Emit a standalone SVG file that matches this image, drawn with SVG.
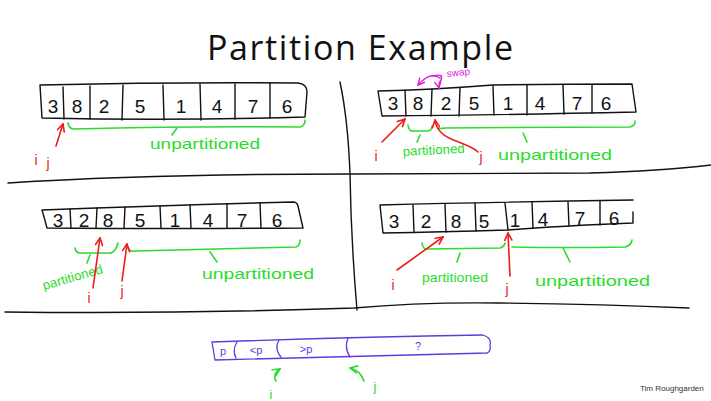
<svg xmlns="http://www.w3.org/2000/svg" width="711" height="401" viewBox="0 0 711 401">
  <defs>
    <style>
      .ink { fill: none; stroke: #111; stroke-width: 1.4; stroke-linecap: round; stroke-linejoin: round; }
      .red { fill: none; stroke: #ee1c1c; stroke-width: 1.6; stroke-linecap: round; stroke-linejoin: round; }
      .grn { fill: none; stroke: #2bdc2b; stroke-width: 1.6; stroke-linecap: round; stroke-linejoin: round; }
      .mag { fill: none; stroke: #e022d6; stroke-width: 1.4; stroke-linecap: round; stroke-linejoin: round; }
      .pur { fill: none; stroke: #5b3ddb; stroke-width: 1.3; stroke-linecap: round; stroke-linejoin: round; }
      .digit { font-family: "Liberation Sans", Arial, sans-serif; font-size: 19px; fill: #111; text-anchor: middle; }
      .gtxt { font-family: "Liberation Sans", Arial, sans-serif; fill: #2bdc2b; }
      .rtxt { font-family: "Liberation Sans", Arial, sans-serif; fill: #ee1c1c; font-size: 14px; text-anchor: middle; }
      .ptxt { font-family: "Liberation Sans", Arial, sans-serif; fill: #5b3ddb; font-size: 11px; text-anchor: middle; }
    </style>
    <marker id="head-red" viewBox="0 0 10 10" refX="9" refY="5" markerWidth="9" markerHeight="9" markerUnits="userSpaceOnUse" orient="auto">
      <path d="M1,1 L9,5 L1,9" fill="none" stroke="#ee1c1c" stroke-width="1.8" stroke-linecap="round"/>
    </marker>
    <marker id="head-grn" viewBox="0 0 10 10" refX="9" refY="5" markerWidth="9" markerHeight="9" markerUnits="userSpaceOnUse" orient="auto">
      <path d="M1,1 L9,5 L1,9" fill="none" stroke="#2bdc2b" stroke-width="1.8" stroke-linecap="round"/>
    </marker>
    <marker id="head-mag" viewBox="0 0 10 10" refX="9" refY="5" markerWidth="8" markerHeight="8" markerUnits="userSpaceOnUse" orient="auto">
      <path d="M1,1 L9,5 L1,9" fill="none" stroke="#e022d6" stroke-width="1.8" stroke-linecap="round"/>
    </marker>
  </defs>

  <rect width="711" height="401" fill="#fff"/>

  <!-- heading -->
  <text x="360" y="60" font-family="Open Sans, Liberation Sans, Arial, sans-serif" font-size="34" fill="#111" text-anchor="middle" textLength="306" lengthAdjust="spacing">Partition Example</text>

  <!-- panel dividers -->
  <g id="dividers" class="ink">
    <path d="M340,82 Q348,120 350,174 Q351,240 357,310"/>
    <path d="M8,183 Q150,174 350,174 Q480,173 590,173 Q660,171 711,165"/>
    <path d="M5,312 Q180,314 354,308 Q420,302 499,303 Q600,304 689,308"/>
  </g>

  <!-- step 1: i and j both start at the first element -->
  <g id="array-step1">
    <path class="ink" d="M40,85 Q170,82 298,83 Q307,84 307,92 L305,117 Q170,121 42,118 Z"/>
    <path class="ink" d="M63,87 L64,119 M90,86 L90,119 M123,85 L122,120 M163,85 L164,120 M200,84 L201,120 M235,84 L235,119 M270,83 L270,118"/>
    <text class="digit" x="53" y="113">3</text>
    <text class="digit" x="77" y="113">8</text>
    <text class="digit" x="104" y="113">2</text>
    <text class="digit" x="140" y="113">5</text>
    <text class="digit" x="181" y="113">1</text>
    <text class="digit" x="217" y="113">4</text>
    <text class="digit" x="253" y="113">7</text>
    <text class="digit" x="287" y="113">6</text>
    <path class="grn" d="M68,123 Q69,129 74,129 Q190,126 300,127 Q305,126 305,120 M177,128 L172,135"/>
    <text class="gtxt" x="150" y="149" font-size="15" textLength="110" lengthAdjust="spacingAndGlyphs">unpartitioned</text>
    <text class="rtxt" x="36" y="165">i</text>
    <text class="rtxt" x="48" y="168">j</text>
  </g>

  <!-- step 2: 8 is swapped with 2 -->
  <g id="array-step2">
    <path class="ink" d="M378,91 Q430,90 493,85 Q560,84 632,84 L636,112 Q500,115 382,116 Z"/>
    <path class="ink" d="M405,90 L406,116 M432,89 L431,116 M460,88 L459,116 M493,86 L494,115 M527,85 L527,115 M563,85 L564,114 M592,85 L592,113"/>
    <text class="digit" x="393" y="110">3</text>
    <text class="digit" x="418" y="110">8</text>
    <text class="digit" x="446" y="110">2</text>
    <text class="digit" x="474" y="110">5</text>
    <text class="digit" x="508" y="110">1</text>
    <text class="digit" x="540" y="110">4</text>
    <text class="digit" x="577" y="110">7</text>
    <text class="digit" x="606" y="110">6</text>
    <path class="grn" d="M408,125 Q409,132 413,131 L428,131 Q432,130 432,126 M420,135 L417,142"/>
    <path class="grn" d="M438,128 Q440,129 445,128 Q540,127 630,127 Q635,126 635,121 M523,133 L527,142"/>
    <text class="gtxt" x="403" y="156" font-size="13" textLength="62" lengthAdjust="spacingAndGlyphs" transform="rotate(-3 403 156)">partitioned</text>
    <text class="gtxt" x="498" y="160" font-size="15" textLength="114" lengthAdjust="spacingAndGlyphs">unpartitioned</text>
    <text class="rtxt" x="376" y="161">i</text>
    <text class="rtxt" x="481" y="162">j</text>
    <text x="447" y="77" font-family="Liberation Sans, Arial, sans-serif" font-size="10" fill="#e022d6" transform="rotate(-6 447 77)">swap</text>
  </g>

  <!-- step 3: boundary of the partitioned region moves right -->
  <g id="array-step3">
    <path class="ink" d="M42,210 Q170,205 293,202 Q297,202 298,206 L303,228 Q170,229 47,228 Q45,220 42,210 Z"/>
    <path class="ink" d="M70,209 L71,228 M97,208 L96,228 M125,207 L124,228 M160,206 L161,228 M190,205 L191,228 M227,204 L227,228 M260,203 L261,228"/>
    <text class="digit" x="58" y="227">3</text>
    <text class="digit" x="84" y="227">2</text>
    <text class="digit" x="108" y="227">8</text>
    <text class="digit" x="140" y="227">5</text>
    <text class="digit" x="175" y="227">1</text>
    <text class="digit" x="208" y="227">4</text>
    <text class="digit" x="242" y="227">7</text>
    <text class="digit" x="277" y="227">6</text>
    <path class="grn" d="M75,248 Q76,253 80,253 L111,253 Q116,251 118,243 M90,255 L87,263"/>
    <path class="grn" d="M128,248 Q130,252 136,251 Q220,249 296,247 Q300,246 300,240 M210,252 L217,262"/>
    <text class="gtxt" x="44" y="290" font-size="13" textLength="62" lengthAdjust="spacingAndGlyphs" transform="rotate(-16 44 290)">partitioned</text>
    <text class="gtxt" x="202" y="279" font-size="15" textLength="112" lengthAdjust="spacingAndGlyphs">unpartitioned</text>
    <text class="rtxt" x="89" y="303">i</text>
    <text class="rtxt" x="122" y="296">j</text>
  </g>

  <!-- step 4: 1 reached; partitioned part covers 2 8 5 -->
  <g id="array-step4">
    <path class="ink" d="M380,205 Q500,202 633,200 M633,212 L633,223 Q560,226 507,230 Q440,232 383,233 L380,205"/>
    <path class="ink" d="M413,205 L414,232 M445,204 L446,232 M475,203 L476,231 M505,203 L508,230 M532,202 L533,228 M568,202 L569,226 M600,201 L600,225"/>
    <text class="digit" x="394" y="228">3</text>
    <text class="digit" x="426" y="228">2</text>
    <text class="digit" x="456" y="228">8</text>
    <text class="digit" x="484" y="228">5</text>
    <text class="digit" x="515" y="227">1</text>
    <text class="digit" x="543" y="226">4</text>
    <text class="digit" x="580" y="225">7</text>
    <text class="digit" x="614" y="225">6</text>
    <path class="grn" d="M422,243 Q423,250 428,249 L500,248 Q504,247 505,243 M460,253 L457,262"/>
    <path class="grn" d="M512,247 Q560,248 625,247 Q631,246 632,240 M563,248 L570,262"/>
    <text class="gtxt" x="422" y="282" font-size="13" textLength="66" lengthAdjust="spacingAndGlyphs">partitioned</text>
    <text class="gtxt" x="535" y="286" font-size="15" textLength="115" lengthAdjust="spacingAndGlyphs">unpartitioned</text>
    <text class="rtxt" x="393" y="290">i</text>
    <text class="rtxt" x="507" y="294">j</text>
  </g>

  <!-- invariant: p | <p | >p | ? -->
  <g id="array-invariant">
    <path class="pur" d="M212,342 Q350,337 483,335 Q492,338 490,345 Q491,352 487,353 Q350,356 215,360 Z"/>
    <path class="pur" d="M237,342 Q232,350 236,358 M279,340 Q274,349 281,357 M348,338 Q344,348 350,357"/>
    <text class="ptxt" x="223" y="355">p</text>
    <text class="ptxt" x="256" y="354">&lt;p</text>
    <text class="ptxt" x="306" y="353">&gt;p</text>
    <text class="ptxt" x="418" y="350">?</text>
    <text class="gtxt" x="271" y="399" font-size="13" text-anchor="middle">i</text>
    <text class="gtxt" x="375" y="391" font-size="13" text-anchor="middle">j</text>
  </g>

  <!-- pointer arrows -->
  <g id="connectors">
    <path class="red" d="M56,146 L63,124" marker-end="url(#head-red)"/>
    <path class="red" d="M382,142 L405,119" marker-end="url(#head-red)"/>
    <path class="red" d="M478,152 C465,140 438,142 435,120" marker-end="url(#head-red)"/>
    <path class="red" d="M93,288 L100,238" marker-end="url(#head-red)"/>
    <path class="red" d="M122,281 L127,244" marker-end="url(#head-red)"/>
    <path class="red" d="M397,270 L443,237" marker-end="url(#head-red)"/>
    <path class="red" d="M510,276 L508,233" marker-end="url(#head-red)"/>
    <path class="mag" d="M440,78 Q430,71 418,85" marker-end="url(#head-mag)"/>
    <path class="mag" d="M433,76 Q444,73 441,80 Q438,83 439,88" marker-end="url(#head-mag)"/>
    <path class="grn" d="M276,381 Q272,374 280,369" marker-end="url(#head-grn)"/>
    <path class="grn" d="M364,381 Q360,370 350,368" marker-end="url(#head-grn)"/>
  </g>

  <text x="640" y="391" font-family="Liberation Sans, Arial, sans-serif" font-size="8" fill="#333">Tim Roughgarden</text>
</svg>
